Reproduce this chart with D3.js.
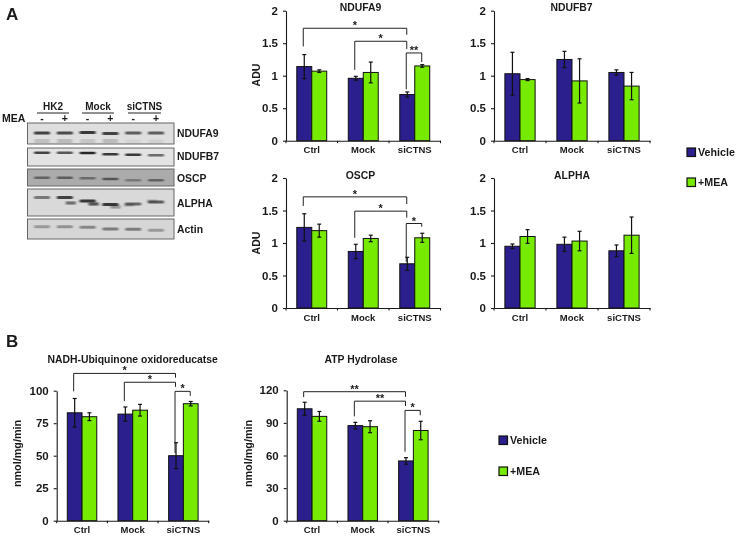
<!DOCTYPE html>
<html><head><meta charset="utf-8">
<script src="https://cdn.jsdelivr.net/npm/d3@7"></script>
<style>
html,body{margin:0;padding:0;background:#fff}
svg{display:block;filter:blur(0.4px)}
text{font-family:"Liberation Sans",Arial,sans-serif;font-weight:bold;fill:#1a1a1a}
</style></head><body>
<svg id="c" width="738" height="539"></svg>
<script>
// ---------- data ----------
const categories = ["Ctrl","Mock","siCTNS"];
const seriesNames = ["Vehicle","+MEA"];
const adTicks = [0,0.5,1,1.5,2];
const adTickLabels = ["0","0.5","1","1.5","2"];
const nadhTicks = [0,25,50,75,100];
const atpTicks = [0,30,60,90,120];

const ndufa9Vals = [[1.14,1.07],[0.96,1.05],[0.71,1.15]];
const ndufa9Errs = [[0.185,0.02],[0.03,0.16],[0.04,0.02]];
const ndufb7Vals = [[1.03,0.94],[1.25,0.92],[1.05,0.84]];
const ndufb7Errs = [[0.33,0.015],[0.125,0.34],[0.04,0.21]];
const oscpVals = [[1.24,1.19],[0.87,1.07],[0.68,1.08]];
const oscpErrs = [[0.21,0.10],[0.11,0.05],[0.10,0.07]];
const alphaVals = [[0.95,1.10],[0.98,1.03],[0.88,1.12]];
const alphaErrs = [[0.035,0.105],[0.11,0.15],[0.09,0.28]];
const nadhVals = [[83,80],[82,85],[50,90]];
const nadhErrs = [[11,3],[5.5,4.5],[10,1.7]];
const atpVals = [[103,96],[87.5,86.5],[55,83]];
const atpErrs = [[6,4.5],[3,5.5],[3,8.5]];

// brackets: [fromCategory, fromSeries, toCategory, toSeries, topValue, fromEndValue, toEndValue, stars]
const ndufa9Brackets = [[0,0,2,0,1.73,1.45,1.63,"*"],[1,0,2,0,1.53,1.09,1.41,"*"],[2,0,2,1,1.35,0.79,1.21,"**"]];
const oscpBrackets = [[0,0,2,0,1.71,1.57,1.60,"*"],[1,0,2,0,1.49,1.08,1.39,"*"],[2,0,2,1,1.30,0.71,1.25,"*"]];
const nadhBrackets = [[0,0,2,0,113.3,99.5,110,"*"],[1,0,2,0,106.5,92,103,"*"],[2,0,2,1,99.5,52,96,"*"]];
const atpBrackets = [[0,0,2,0,118.7,113.8,114,"**"],[1,0,2,0,110,96,105.5,"**"],[2,0,2,1,101.5,63.5,97,"*"]];

// western blot
const blotGroups = ["HK2","Mock","siCTNS"];
const blotSigns = ["-","+","-","+","-","+"];
const blotProteins = ["NDUFA9","NDUFB7","OSCP","ALPHA","Actin"];
const bandIntensity = [
  [.8,.75,.85,.8,.65,.65],
  [.8,.7,.95,.85,.85,.6],
  [.5,.55,.45,.6,.35,.5],
  [.5,.8,.85,.85,.6,.65],
  [.32,.36,.42,.48,.48,.32]
];
const alphaSecondBand = [0,.55,.7,.35,.25,.2];

// ---------- layout ----------
const blue = "#2a1f8c", green = "#76ea00", ink = "#1a1a1a";
const colors = [blue, green];
const svg = d3.select("#c");

function panel(o){
  const x = d3.scaleBand().domain(categories).range([o.x0,o.x1]).paddingInner(0).paddingOuter(0);
  const xs = d3.scaleBand().domain([0,1]).range([0,x.bandwidth()]).paddingInner(0).paddingOuter(0.72);
  const y = d3.scaleLinear().domain([0,o.ticks[o.ticks.length-1]]).range([o.yB,o.yT]);
  const g = svg.append("g");

  const rows = o.vals.flatMap((r,i)=>r.map((v,j)=>({c:categories[i],j,v,e:o.errs[i][j]})));
  g.selectAll("rect.bar").data(rows).join("rect").attr("class","bar")
    .attr("x",d=>x(d.c)+xs(d.j)).attr("width",xs.bandwidth())
    .attr("y",d=>y(d.v)).attr("height",d=>y(0)-y(d.v))
    .attr("fill",d=>colors[d.j]).attr("stroke","#111").attr("stroke-width",1);

  const cx = d=>x(d.c)+xs(d.j)+xs.bandwidth()/2;
  const eb = g.append("g").attr("stroke","#111").attr("stroke-width",1.2);
  eb.selectAll("line.s").data(rows).join("line").attr("class","s")
    .attr("x1",cx).attr("x2",cx).attr("y1",d=>y(d.v-d.e)).attr("y2",d=>y(d.v+d.e));
  eb.selectAll("line.t").data(rows).join("line").attr("class","t")
    .attr("x1",d=>cx(d)-2).attr("x2",d=>cx(d)+2).attr("y1",d=>y(d.v+d.e)).attr("y2",d=>y(d.v+d.e));
  eb.selectAll("line.b").data(rows).join("line").attr("class","b")
    .attr("x1",d=>cx(d)-2).attr("x2",d=>cx(d)+2).attr("y1",d=>y(d.v-d.e)).attr("y2",d=>y(d.v-d.e));

  const ya = g.append("g").attr("transform",`translate(${o.x0},0)`)
    .call(d3.axisLeft(y).tickValues(o.ticks).tickFormat(o.fmt||d3.format("d")).tickSize(3).tickSizeOuter(0).tickPadding(5));
  ya.selectAll("text").attr("font-size",11.5).style("font-family",'"Liberation Sans"').attr("font-weight","bold");
  const xa = g.append("g").attr("transform",`translate(0,${o.yB})`)
    .call(d3.axisBottom(x).tickSize(0).tickSizeOuter(0).tickPadding(6));
  xa.selectAll("text").attr("font-size",9.5).style("font-family",'"Liberation Sans"').attr("font-weight","bold");
  xa.selectAll(".sep").data([...categories.map(c=>x(c)),o.x1]).join("line").attr("class","sep")
    .attr("x1",d=>d).attr("x2",d=>d).attr("y1",0).attr("y2",2.5).attr("stroke",ink);
  [ya,xa].forEach(a=>{a.selectAll("line,path").attr("stroke",ink).attr("stroke-width",1.1);});

  g.append("text").attr("x",o.titleX).attr("y",o.titleY).attr("text-anchor","middle")
    .attr("font-size",o.titleSize||10.4).text(o.title);

  if(o.ylabel) g.append("text").attr("transform",`translate(${o.ylabelX},${o.ylabelY}) rotate(-90)`)
    .attr("text-anchor","middle").attr("font-size",o.ylabelSize||10.5).text(o.ylabel);

  const px = (c,s)=>x(categories[c])+xs(s)+xs.bandwidth()/2;
  (o.brackets||[]).forEach(b=>{
    const [c1,s1,c2,s2,top,e1,e2,st] = b;
    const X1=px(c1,s1)-1, X2=px(c2,s2)-.5;
    g.append("path").attr("fill","none").attr("stroke","#222").attr("stroke-width",1)
      .attr("d",d3.line()([[X1,y(e1)],[X1,y(top)],[X2,y(top)],[X2,y(e2)]]));
    g.append("text").attr("x",(X1+X2)/2).attr("y",y(top)+1).attr("text-anchor","middle")
      .attr("font-size",11).text(st);
  });
}

const adFmt = (d)=>adTickLabels[adTicks.indexOf(d)];
panel({title:"NDUFA9",vals:ndufa9Vals,errs:ndufa9Errs,ticks:adTicks,fmt:adFmt,x0:286,x1:440.5,yB:140.7,yT:10.7,titleX:360.5,titleY:11,ylabel:"ADU",ylabelX:260,ylabelY:75,brackets:ndufa9Brackets});
panel({title:"NDUFB7",vals:ndufb7Vals,errs:ndufb7Errs,ticks:adTicks,fmt:adFmt,x0:494,x1:650,yB:140.7,yT:10.7,titleX:571.5,titleY:11});
panel({title:"OSCP",vals:oscpVals,errs:oscpErrs,ticks:adTicks,fmt:adFmt,x0:286,x1:440.5,yB:308,yT:178,titleX:360.5,titleY:179,ylabel:"ADU",ylabelX:260,ylabelY:243,brackets:oscpBrackets});
panel({title:"ALPHA",vals:alphaVals,errs:alphaErrs,ticks:adTicks,fmt:adFmt,x0:494,x1:650,yB:308,yT:178,titleX:572,titleY:179});
panel({title:"NADH-Ubiquinone oxidoreducatse",vals:nadhVals,errs:nadhErrs,ticks:nadhTicks,x0:56.7,x1:208.7,yB:520.7,yT:390.7,titleX:132.7,titleY:363,ylabel:"nmol/mg/min",ylabelX:21,ylabelY:453.5,ylabelSize:10.8,brackets:nadhBrackets});
panel({title:"ATP Hydrolase",vals:atpVals,errs:atpErrs,ticks:atpTicks,x0:286.7,x1:438.7,yB:520.7,yT:390.3,titleX:361,titleY:363,ylabel:"nmol/mg/min",ylabelX:252,ylabelY:453.5,ylabelSize:10.8,brackets:atpBrackets});

function legend(x,ys){
  seriesNames.forEach((n,i)=>{
    svg.append("rect").attr("x",x).attr("y",ys[i]).attr("width",8.5).attr("height",8.5)
      .attr("fill",colors[i]).attr("stroke","#111").attr("stroke-width",1.2);
    svg.append("text").attr("x",x+11).attr("y",ys[i]+8).attr("font-size",10.7).text(n);
  });
}
legend(687,[148,178]);
legend(499,[436,467]);

svg.append("text").attr("x",6).attr("y",20).attr("font-size",17).text("A");
svg.append("text").attr("x",6).attr("y",347).attr("font-size",17).text("B");

// ---------- blot ----------
const defs = svg.append("defs");
defs.append("filter").attr("id","bb").attr("x","-30%").attr("y","-200%").attr("width","160%").attr("height","500%")
  .append("feGaussianBlur").attr("stdDeviation","1.1 0.7");
const laneScale = d3.scalePoint().domain(d3.range(6)).range([42,156]);
const blotLayout = [
  {t:123,b:144,bg:"#dedede",ys:[133,133,132.5,133.5,133,133],th:3.2,ly:133,ghost:[141,141,141,141,141.5,141.5],ghostOp:[.16,.18,.12,.18,.05,.07]},
  {t:148,b:166,bg:"#e3e3e3",ys:[152.7,152.7,153,154.3,154.7,155.3],th:2.6,ly:156},
  {t:169,b:186,bg:"#ababab",ys:[177.7,177.7,178.3,179,180.3,180.3],th:2.6,ly:178},
  {t:189,b:216,bg:"#d9d9d9",ys:[197.5,197.5,201,204.5,204,202],th:3.2,ly:203.5,second:[0,203,204,207,205,201],dx:[0,6,6,5,-4,-4]},
  {t:219,b:239,bg:"#d6d6d6",ys:[226.7,226.7,227.3,229,229.3,230.3],th:3,ly:229.5}
];
blotProteins.forEach((p,i)=>{
  const L = blotLayout[i];
  const g = svg.append("g");
  g.append("rect").attr("x",27.5).attr("y",L.t).attr("width",146.5).attr("height",L.b-L.t)
    .attr("fill",L.bg).attr("stroke","#666").attr("stroke-width",1);
  g.selectAll("rect.band").data(bandIntensity[i]).join("rect").attr("class","band")
    .attr("x",(d,j)=>laneScale(j)-8).attr("y",(d,j)=>L.ys[j]-L.th/2)
    .attr("width",16).attr("height",L.th).attr("rx",1.2).attr("fill","#1c1c1c").attr("opacity",d=>d)
    .attr("filter","url(#bb)");
  if(L.ghost) g.selectAll("rect.ghost").data(L.ghost).join("rect").attr("class","ghost")
    .attr("x",(d,j)=>laneScale(j)-7.5).attr("y",d=>d-2).attr("width",15).attr("height",4)
    .attr("fill","#222").attr("opacity",(d,j)=>L.ghostOp[j]).attr("filter","url(#bb)");
  if(L.second) g.selectAll("rect.second").data(alphaSecondBand).join("rect").attr("class","second")
    .attr("x",(d,j)=>laneScale(j)+L.dx[j]-5).attr("y",(d,j)=>L.second[j]-1.6)
    .attr("width",10).attr("height",3.2).attr("fill","#1c1c1c").attr("opacity",d=>d).attr("filter","url(#bb)");
  g.append("text").attr("x",177).attr("y",L.ly+3.5).attr("font-size",10.4).text(p);
});
const groupSpans = [[37,69],[82,114],[128,161]];
blotGroups.forEach((n,i)=>{
  const [a,b]=groupSpans[i];
  svg.append("line").attr("x1",a).attr("x2",b).attr("y1",113).attr("y2",113).attr("stroke","#222").attr("stroke-width",1);
  svg.append("text").attr("x",(a+b)/2).attr("y",110).attr("text-anchor","middle").attr("font-size",10).text(n);
});
blotSigns.forEach((s,i)=>{
  svg.append("text").attr("x",laneScale(i)).attr("y",122).attr("text-anchor","middle").attr("font-size",10.5).text(s);
});
svg.append("text").attr("x",2).attr("y",122).attr("font-size",10.5).text("MEA");
</script>
</body></html>
